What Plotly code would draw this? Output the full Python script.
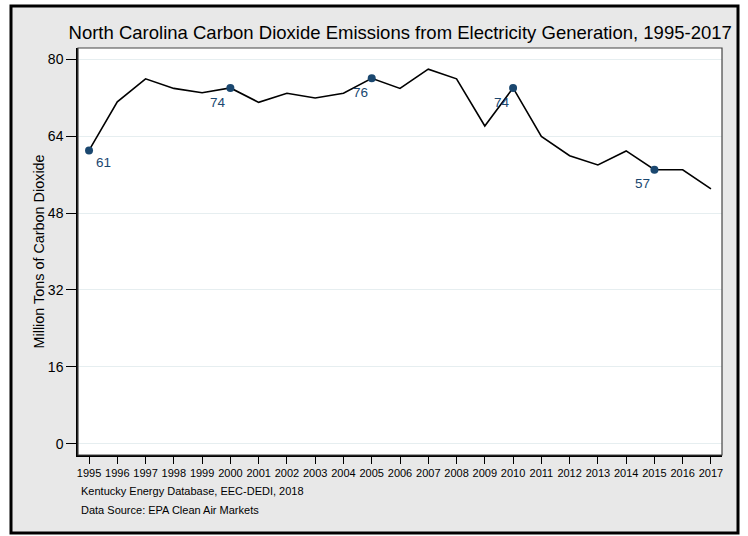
import plotly.graph_objects as go

# Annual CO2 emissions from electricity generation, North Carolina
years = list(range(1995, 2018))
emissions = [61.0, 71.1, 75.9, 73.9, 73.0, 74.0, 71.0, 72.9, 71.9, 72.9, 76.0, 73.9,
             77.9, 75.9, 66.1, 74.0, 63.9, 59.9, 58.0, 60.9, 57.0, 57.0, 53.0]
labeled_years = [1995, 2000, 2005, 2010, 2015]
y_ticks = [0, 16, 32, 48, 64, 80]

navy = "#1a476f"
font_family = "Liberation Sans, Arial, sans-serif"

label_vals = [emissions[years.index(y)] for y in labeled_years]

fig = go.Figure()

fig.add_trace(go.Scatter(
    x=years, y=emissions, mode="lines",
    line=dict(color="black", width=1.6),
    hoverinfo="skip", showlegend=False,
))
fig.add_trace(go.Scatter(
    x=labeled_years, y=label_vals, mode="markers",
    marker=dict(color=navy, size=8),
    showlegend=False,
))

# Value labels for the highlighted years
offsets = {1995: (14, -12), 2000: (-12, -15), 2005: (-11, -14), 2010: (-11, -15), 2015: (-12, -14)}
annotations = []
for yr, v in zip(labeled_years, label_vals):
    dx, dy = offsets[yr]
    annotations.append(dict(
        x=yr, y=v, xref="x", yref="y", text=f"{v:.0f}", showarrow=False,
        xshift=dx, yshift=dy, font=dict(family=font_family, size=13.5, color=navy),
    ))

annotations.append(dict(
    x=0, y=0.5, xref="paper", yref="paper", xanchor="center", yanchor="middle",
    xshift=-40, textangle=-90,
    text="Million Tons of Carbon Dioxide", showarrow=False,
    font=dict(family=font_family, size=14.4, color="black"),
))
annotations.append(dict(
    x=0, y=0, xref="paper", yref="paper", xanchor="left", yanchor="middle",
    xshift=1, yshift=-36, text="Kentucky Energy Database, EEC-DEDI, 2018", showarrow=False,
    font=dict(family=font_family, size=11, color="black"),
))
annotations.append(dict(
    x=0, y=0, xref="paper", yref="paper", xanchor="left", yanchor="middle",
    xshift=1, yshift=-55, text="Data Source: EPA Clean Air Markets", showarrow=False,
    font=dict(family=font_family, size=11, color="black"),
))

W, H = 748, 536
ml, mr, mt, mb = 78, 26, 48, 81
pw, ph = W - ml - mr, H - mt - mb

def px_x(p):
    return (p - ml) / pw

def px_y(p):
    return (H - mb - p) / ph

shapes = [
    # Gray graph region with heavy outer frame
    dict(type="rect", xref="paper", yref="paper", layer="below",
         x0=px_x(11), x1=px_x(738), y0=px_y(533), y1=px_y(6),
         fillcolor="#e8e8e8", line=dict(color="black", width=3)),
    # White plot region
    dict(type="rect", xref="paper", yref="paper", layer="below",
         x0=0, x1=1, y0=0, y1=1, fillcolor="white", line=dict(width=0)),
    # Plot region outline
    dict(type="rect", xref="paper", yref="paper", layer="above",
         x0=0, x1=1, y0=0, y1=1, fillcolor="rgba(0,0,0,0)",
         line=dict(color="#444444", width=1.2)),
]

fig.update_layout(
    width=W, height=H,
    margin=dict(l=ml, r=mr, t=mt, b=mb),
    paper_bgcolor="white", plot_bgcolor="white",
    font=dict(family=font_family, color="black"),
    title=dict(
        text="North Carolina Carbon Dioxide Emissions from Electricity Generation, 1995-2017",
        x=0.535, xanchor="center", y=1 - 33 / H, yanchor="middle", yref="container",
        font=dict(family=font_family, size=18.5, color="black"),
    ),
    annotations=annotations,
    shapes=shapes,
    xaxis=dict(
        range=[1994.61, 2017.39], tickmode="array", tickvals=years,
        ticktext=[str(y) for y in years], showgrid=False, zeroline=False,
        ticks="outside", ticklen=7, tickcolor="black", tickwidth=1,
        showline=True, linecolor="black", linewidth=1.5,
        tickfont=dict(family=font_family, size=11, color="black"),
    ),
    yaxis=dict(
        range=[-2.3, 82.3], tickmode="array", tickvals=y_ticks,
        showgrid=True, gridcolor="#e6eef0", gridwidth=1, zeroline=False,
        ticks="outside", ticklen=10, tickcolor="black", tickwidth=1,
        showline=True, linecolor="black", linewidth=1.5,
        tickfont=dict(family=font_family, size=14, color="black"),
    ),
)

fig.write_html("out.html")
